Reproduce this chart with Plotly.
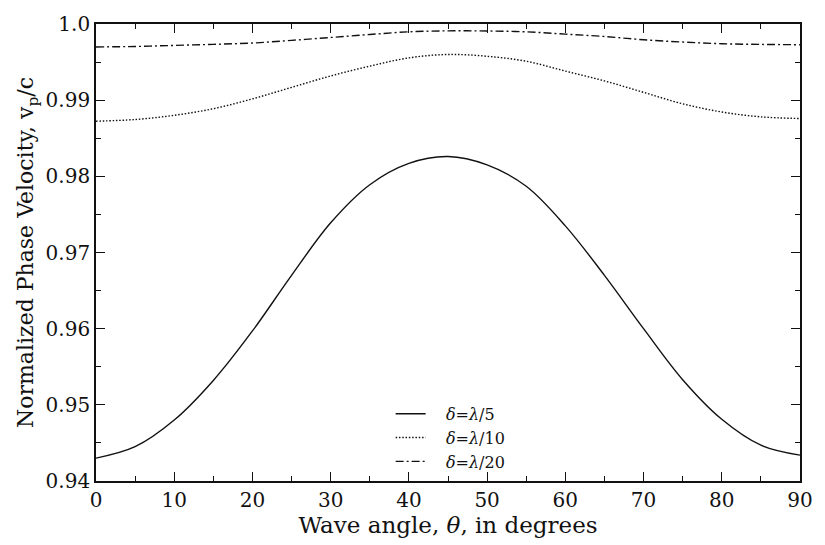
import plotly.graph_objects as go

theta = [0, 5, 10, 15, 20, 25, 30, 35, 40, 45, 50, 55, 60, 65, 70, 75, 80, 85, 90]
v_lambda5 = [0.9430, 0.9445, 0.9480, 0.9532, 0.9597, 0.9670, 0.9739, 0.9789, 0.9817, 0.9826,
             0.9815, 0.9787, 0.9735, 0.9670, 0.9600, 0.9533, 0.9481, 0.9447, 0.9434]
v_lambda10 = [0.98724, 0.98746, 0.98801, 0.98888, 0.99017, 0.99168, 0.99318, 0.99447, 0.99555, 0.99600,
              0.99576, 0.99511, 0.99382, 0.99253, 0.99103, 0.98952, 0.98845, 0.98781, 0.98759]
v_lambda20 = [0.99699, 0.99705, 0.99719, 0.99733, 0.99750, 0.99785, 0.99823, 0.99862, 0.99898, 0.99910,
              0.99908, 0.99897, 0.99867, 0.99836, 0.99793, 0.99763, 0.99741, 0.99732, 0.99728]

names = ["\u00a0\u00a0\u00a0<i>δ</i>=<i>λ</i>/5", "\u00a0\u00a0\u00a0<i>δ</i>=<i>λ</i>/10", "\u00a0\u00a0\u00a0<i>δ</i>=<i>λ</i>/20"]
dashes = ["solid", "1.5px,1.8px", "8px,3px,2px,3px"]
series = [v_lambda5, v_lambda10, v_lambda20]

y_ticks = [0.94, 0.95, 0.96, 0.97, 0.98, 0.99, 1.0]
y_ticktext = ["0.94", "0.95", "0.96", "0.97", "0.98", "0.99", "1.0"]
x_ticks = [0, 10, 20, 30, 40, 50, 60, 70, 80, 90]

FONT = "DejaVu Serif"
INK = "#111"
fig = go.Figure()
for nm, ds, ys in zip(names, dashes, series):
    fig.add_trace(go.Scatter(x=theta, y=ys, mode="lines", name=nm,
                             line=dict(color="#111", width=1.4, dash=ds, shape="spline", smoothing=1.0)))

axis_common = dict(showline=True, linecolor=INK, linewidth=1.7, mirror="allticks",
                   ticks="inside", ticklen=9, tickwidth=1.2, tickcolor=INK,
                   showgrid=False, zeroline=False,
                   tickfont=dict(family=FONT, size=20, color=INK))

fig.update_xaxes(range=[0, 90], tickvals=x_ticks,
                 minor=dict(dtick=5, ticks="inside", ticklen=5, tickwidth=1.2, tickcolor=INK, showgrid=False),
                 title=dict(text="Wave angle, <i>θ</i>, in degrees", font=dict(family=FONT, size=23, color=INK), standoff=4),
                 **axis_common)
fig.update_yaxes(range=[0.94, 1.0], tickvals=y_ticks, ticktext=y_ticktext,
                 minor=dict(dtick=0.005, ticks="inside", ticklen=5, tickwidth=1.2, tickcolor=INK, showgrid=False),
                 title=dict(text="Normalized Phase Velocity, v<sub>p</sub>/c", font=dict(family=FONT, size=22, color=INK), standoff=6),
                 **axis_common)

fig.update_layout(
    width=825, height=545,
    margin=dict(l=96, r=17, t=14, b=64),
    paper_bgcolor="white", plot_bgcolor="white",
    font=dict(family=FONT, color=INK),
    legend=dict(x=(394 - 96) / 712, y=(481 - 395) / 467, xanchor="left", yanchor="top",
                bgcolor="rgba(0,0,0,0)", font=dict(family=FONT, size=16, color=INK)),
    showlegend=True,
)

fig.write_html("out.html")
